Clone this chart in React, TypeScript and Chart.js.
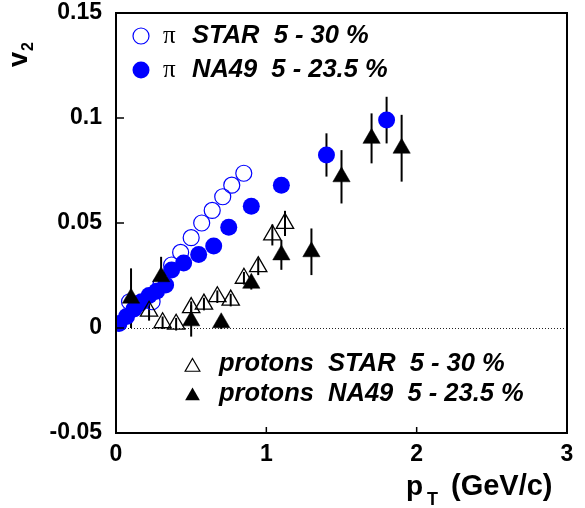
import React, { useEffect, useRef } from 'react';
import { Chart, registerables } from 'chart.js';

Chart.register(...registerables);

// pi STAR 5-30 %
const starPionPt = [0.09, 0.16, 0.24, 0.30, 0.37, 0.43, 0.50, 0.57, 0.64, 0.71, 0.77, 0.85];
const starPionV2 = [0.0125, 0.012, 0.0125, 0.021, 0.030, 0.036, 0.043, 0.050, 0.056, 0.0625, 0.068, 0.0737];

// pi NA49 5-23.5 %
const na49PionPt = [0.02, 0.07, 0.12, 0.17, 0.22, 0.27, 0.33, 0.37, 0.45, 0.55, 0.65, 0.75, 0.90, 1.10, 1.40, 1.80];
const na49PionV2 = [0.0022, 0.0055, 0.009, 0.0125, 0.0155, 0.0175, 0.0205, 0.0276, 0.031, 0.035, 0.039, 0.048, 0.058, 0.068, 0.0824, 0.099];
const na49PionErr = [0.001, 0.001, 0.001, 0.001, 0.001, 0.001, 0.001, 0.001, 0.001, 0.001, 0.0015, 0.0015, 0.002, 0.003, 0.0103, 0.0111];

// protons STAR 5-30 %
const starProtonPt = [0.22, 0.31, 0.40, 0.50, 0.585, 0.674, 0.763, 0.851, 0.946, 1.04, 1.124];
const starProtonV2 = [0.008, 0.0025, 0.0018, 0.0097, 0.0114, 0.0149, 0.0133, 0.0237, 0.0292, 0.0443, 0.0498];
const starProtonErr = [0.0045, 0.003, 0.003, 0.003, 0.003, 0.003, 0.003, 0.003, 0.004, 0.005, 0.006];

// protons NA49 5-23.5 %
const na49ProtonPt = [0.1, 0.3, 0.5, 0.7, 0.9, 1.1, 1.3, 1.5, 1.7, 1.9];
const na49ProtonV2 = [0.0142, 0.0244, 0.0034, 0.0025, 0.0213, 0.0348, 0.0363, 0.072, 0.0903, 0.0856];
const na49ProtonErr = [0.0142, 0.0095, 0.0075, 0.003, 0.003, 0.0071, 0.0111, 0.0127, 0.0119, 0.0159];

const xTicks = [0, 1, 2, 3];
const yTicks = [-0.05, 0, 0.05, 0.1, 0.15];

const legendTop = ['STAR  5 - 30 %', 'NA49  5 - 23.5 %'];
const legendBottom = ['protons  STAR  5 - 30 %', 'protons  NA49  5 - 23.5 %'];

const SANS = '"Liberation Sans", Arial, Helvetica, sans-serif';
const SERIF = '"Liberation Serif", "DejaVu Serif", serif';
const BLUE = '#0000ff';

function pts(xs: number[], ys: number[]) {
  return xs.map((x, i) => ({ x, y: ys[i] }));
}

function triPath(ctx: CanvasRenderingContext2D, x: number, y: number, r: number) {
  ctx.beginPath();
  let rad = 0;
  ctx.moveTo(x + Math.sin(rad) * r, y - Math.cos(rad) * r);
  rad += (2 * Math.PI) / 3;
  ctx.lineTo(x + Math.sin(rad) * r, y - Math.cos(rad) * r);
  rad += (2 * Math.PI) / 3;
  ctx.lineTo(x + Math.sin(rad) * r, y - Math.cos(rad) * r);
  ctx.closePath();
}

export default function App() {
  const ref = useRef<HTMLCanvasElement>(null);

  useEffect(() => {
    document.body.style.margin = '0';
    const canvas = ref.current!;

    const under = {
      id: 'under',
      beforeDatasetsDraw(chart: any) {
        const ctx: CanvasRenderingContext2D = chart.ctx;
        const { left, right } = chart.chartArea;
        const xs = chart.scales.x;
        const ys = chart.scales.y;
        ctx.save();
        // dotted zero line
        ctx.strokeStyle = '#222';
        ctx.lineWidth = 1;
        ctx.setLineDash([1, 2]);
        const y0 = Math.round(ys.getPixelForValue(0)) + 0.5;
        ctx.beginPath();
        ctx.moveTo(left, y0);
        ctx.lineTo(right, y0);
        ctx.stroke();
        ctx.setLineDash([]);
        // error bars
        ctx.strokeStyle = '#000';
        ctx.lineWidth = 2;
        chart.data.datasets.forEach((ds: any) => {
          if (!ds.errors) return;
          ds.data.forEach((p: any, i: number) => {
            const e = ds.errors[i];
            const px = xs.getPixelForValue(p.x);
            ctx.beginPath();
            ctx.moveTo(px, ys.getPixelForValue(p.y - e));
            ctx.lineTo(px, ys.getPixelForValue(p.y + e));
            ctx.stroke();
          });
        });
        ctx.restore();
      },
    };

    const decor = {
      id: 'decor',
      afterDraw(chart: any) {
        const ctx: CanvasRenderingContext2D = chart.ctx;
        const { left, right, top, bottom } = chart.chartArea;
        const xs = chart.scales.x;
        const ys = chart.scales.y;
        ctx.save();
        // frame
        ctx.strokeStyle = '#000';
        ctx.lineWidth = 2;
        ctx.strokeRect(left, top, right - left, bottom - top);
        // inward ticks
        ctx.lineWidth = 1.5;
        ctx.beginPath();
        yTicks.forEach((v) => {
          const py = ys.getPixelForValue(v);
          ctx.moveTo(left, py);
          ctx.lineTo(left + 8, py);
        });
        xTicks.forEach((v) => {
          const px = xs.getPixelForValue(v);
          ctx.moveTo(px, bottom);
          ctx.lineTo(px, bottom - 6);
        });
        ctx.stroke();

        ctx.fillStyle = '#000';
        ctx.textBaseline = 'alphabetic';
        ctx.textAlign = 'left';
        // x title  p_T (GeV/c)
        ctx.font = `bold 28px ${SANS}`;
        ctx.fillText('p', 406, 495);
        ctx.font = `bold 18px ${SANS}`;
        ctx.fillText('T', 427, 505);
        ctx.font = `bold 29px ${SANS}`;
        ctx.fillText('(GeV/c)', 451, 495);

        // y title v_2 (rotated)
        ctx.save();
        ctx.translate(27, 67);
        ctx.rotate(-Math.PI / 2);
        ctx.font = `bold 27px ${SANS}`;
        ctx.fillText('v', 0, 0);
        ctx.font = `bold 16px ${SANS}`;
        ctx.fillText('2', 16, 6);
        ctx.restore();

        // top legend
        ctx.lineWidth = 1.2;
        ctx.strokeStyle = BLUE;
        ctx.beginPath();
        ctx.arc(141, 36, 8, 0, Math.PI * 2);
        ctx.stroke();
        ctx.fillStyle = BLUE;
        ctx.beginPath();
        ctx.arc(141, 70, 8.5, 0, Math.PI * 2);
        ctx.fill();
        ctx.fillStyle = '#000';
        ctx.font = `25px ${SERIF}`;
        ctx.fillText('\u03c0', 163, 43);
        ctx.fillText('\u03c0', 163, 77);
        ctx.font = `italic bold 25.5px ${SANS}`;
        ctx.fillText(legendTop[0], 192, 43);
        ctx.fillText(legendTop[1], 192, 77);

        // bottom legend
        ctx.strokeStyle = '#000';
        ctx.lineWidth = 1.2;
        triPath(ctx, 192.5, 367, 8.5);
        ctx.stroke();
        triPath(ctx, 192.5, 396, 8.5);
        ctx.fill();
        ctx.font = `italic bold 25.5px ${SANS}`;
        ctx.fillText(legendBottom[0], 219, 371);
        ctx.fillText(legendBottom[1], 219, 401);
        ctx.restore();
      },
    };

    const tickFont = { family: SANS, size: 23, weight: 'bold' as const };

    const chart = new Chart(canvas, {
      type: 'scatter',
      data: {
        datasets: [
          {
            label: 'protons NA49 5 - 23.5 %',
            data: pts(na49ProtonPt, na49ProtonV2),
            errors: na49ProtonErr,
            pointStyle: 'triangle',
            pointRadius: 10,
            backgroundColor: '#000',
            borderColor: '#000',
            borderWidth: 0.5,
            order: 0,
          } as any,
          {
            label: 'protons STAR 5 - 30 %',
            data: pts(starProtonPt, starProtonV2),
            errors: starProtonErr,
            pointStyle: 'triangle',
            pointRadius: 10,
            backgroundColor: 'rgba(0,0,0,0)',
            borderColor: '#000',
            borderWidth: 1.3,
            order: 1,
          } as any,
          {
            label: 'pi NA49 5 - 23.5 %',
            data: pts(na49PionPt, na49PionV2),
            errors: na49PionErr,
            pointStyle: 'circle',
            pointRadius: 8.5,
            backgroundColor: BLUE,
            borderColor: BLUE,
            borderWidth: 0,
            order: 2,
          } as any,
          {
            label: 'pi STAR 5 - 30 %',
            data: pts(starPionPt, starPionV2),
            pointStyle: 'circle',
            pointRadius: 8,
            backgroundColor: 'rgba(0,0,0,0)',
            borderColor: BLUE,
            borderWidth: 1.2,
            order: 3,
          } as any,
        ],
      },
      options: {
        animation: false,
        responsive: false,
        layout: { padding: { top: 13, right: 18, left: 0, bottom: 0 } },
        plugins: { legend: { display: false }, tooltip: { enabled: false } },
        scales: {
          x: {
            type: 'linear',
            min: 0,
            max: 3,
            afterBuildTicks: (s: any) => {
              s.ticks = xTicks.map((v) => ({ value: v }));
            },
            afterFit: (s: any) => {
              s.height = 75;
              s.paddingLeft = 0;
              s.paddingRight = 0;
            },
            grid: { display: false, drawTicks: false },
            border: { display: false },
            ticks: {
              font: tickFont,
              color: '#000',
              padding: 8,
              maxRotation: 0,
              autoSkip: false,
              callback: (v: any) => String(v),
            },
          },
          y: {
            type: 'linear',
            min: -0.05,
            max: 0.15,
            afterBuildTicks: (s: any) => {
              s.ticks = yTicks.map((v) => ({ value: v }));
            },
            afterFit: (s: any) => {
              s.width = 116;
              s.paddingTop = 0;
              s.paddingBottom = 0;
            },
            grid: { display: false, drawTicks: false },
            border: { display: false },
            ticks: {
              font: tickFont,
              color: '#000',
              padding: 14,
              autoSkip: false,
              callback: (v: any) => String(Math.round(Number(v) * 100) / 100),
            },
          },
        },
      },
      plugins: [under, decor],
    });

    return () => chart.destroy();
  }, []);

  return <canvas ref={ref} width={585} height={508} style={{ display: 'block' }} />;
}
